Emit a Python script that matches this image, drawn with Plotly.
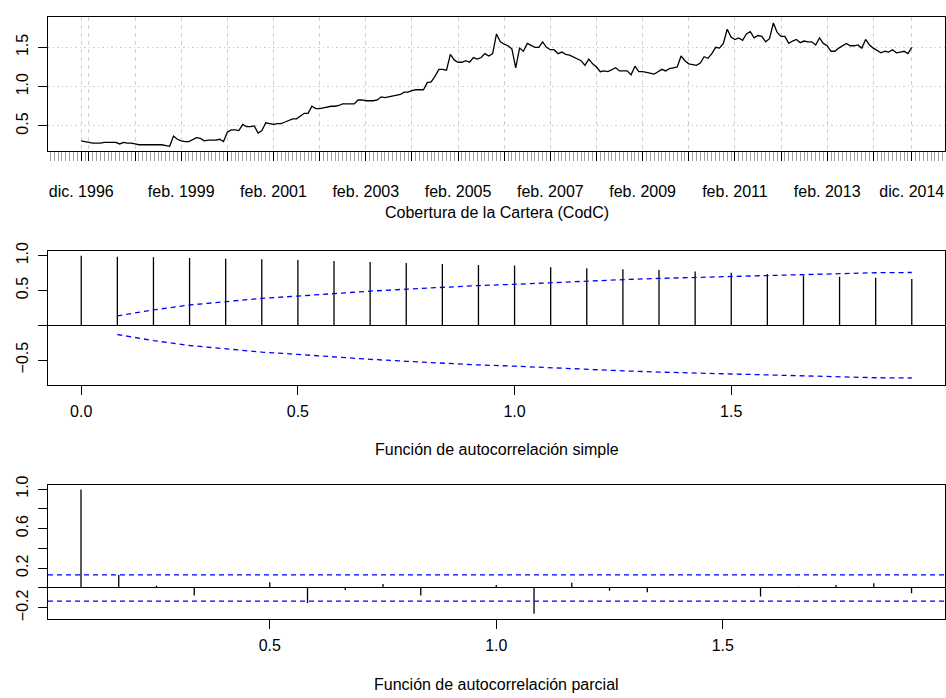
import plotly.graph_objects as go

# ---------------- data ----------------
START_YEAR = 1996
START_MONTH = 12  # dic. 1996

cobertura = [
    0.31,
    0.30, 0.29, 0.28, 0.28, 0.28, 0.29, 0.29, 0.29, 0.29, 0.27, 0.29, 0.28,
    0.28, 0.27, 0.26, 0.26, 0.26, 0.26, 0.26, 0.26, 0.26, 0.25, 0.24, 0.37,
    0.33, 0.31, 0.30, 0.30, 0.32, 0.35, 0.34, 0.31, 0.32, 0.32, 0.32, 0.33,
    0.30, 0.42, 0.45, 0.45, 0.44, 0.52, 0.49, 0.49, 0.50, 0.41, 0.44, 0.54,
    0.53, 0.52, 0.53, 0.53, 0.55, 0.57, 0.59, 0.59, 0.62, 0.66, 0.66, 0.75,
    0.72, 0.72, 0.73, 0.74, 0.75, 0.75, 0.76, 0.78, 0.78, 0.78, 0.78, 0.83,
    0.83, 0.82, 0.82, 0.82, 0.83, 0.87, 0.86, 0.87, 0.88, 0.89, 0.90, 0.93,
    0.93, 0.95, 0.96, 0.96, 0.96, 1.05, 1.06, 1.13, 1.22, 1.22, 1.21, 1.41,
    1.34, 1.31, 1.31, 1.33, 1.31, 1.37, 1.35, 1.37, 1.42, 1.39, 1.42, 1.67,
    1.57, 1.54, 1.52, 1.48, 1.24, 1.49, 1.45, 1.55, 1.52, 1.50, 1.50, 1.57,
    1.50, 1.47, 1.47, 1.42, 1.44, 1.41, 1.40, 1.38, 1.36, 1.33, 1.27, 1.35,
    1.29, 1.25, 1.19, 1.20, 1.19, 1.22, 1.24, 1.20, 1.20, 1.20, 1.15, 1.26,
    1.19, 1.19, 1.18, 1.17, 1.16, 1.19, 1.22, 1.20, 1.23, 1.24, 1.25, 1.39,
    1.33, 1.29, 1.28, 1.27, 1.30, 1.38, 1.36, 1.42, 1.50, 1.49, 1.55, 1.73,
    1.63, 1.60, 1.62, 1.59, 1.67, 1.70, 1.62, 1.65, 1.64, 1.57, 1.61, 1.81,
    1.69, 1.64, 1.64, 1.55, 1.58, 1.60, 1.56, 1.58, 1.57, 1.57, 1.53, 1.62,
    1.55, 1.52, 1.45, 1.45, 1.49, 1.52, 1.55, 1.52, 1.52, 1.53, 1.49, 1.60,
    1.53, 1.49, 1.46, 1.43, 1.45, 1.44, 1.47, 1.43, 1.44, 1.45, 1.42, 1.50,
]

# major ticks of the series axis: (year, month, label shown)
ts_ticks = [(1996, 12, "dic. 1996")] + [
    (y, 2, f"feb. {y}" if y in (1999, 2001, 2003, 2005, 2007, 2009, 2011, 2013) else "")
    for y in range(1997, 2015)
] + [(2014, 12, "dic. 2014")]
ts_yticks = [0.5, 1.0, 1.5]
ts_ytext = ["0.5", "1.0", "1.5"]

acf_lags = [k / 12 for k in range(24)]
acf_values = [1.0, 0.985, 0.976, 0.966, 0.956, 0.947, 0.938, 0.924, 0.910, 0.895,
              0.881, 0.867, 0.857, 0.834, 0.820, 0.806, 0.792, 0.773, 0.754, 0.735,
              0.716, 0.697, 0.683, 0.665]
acf_ci_lags = acf_lags[1:]
acf_ci = [0.133, 0.221, 0.291, 0.339, 0.386, 0.419, 0.457, 0.490, 0.518, 0.546,
          0.570, 0.588, 0.612, 0.636, 0.655, 0.673, 0.687, 0.702, 0.716, 0.730,
          0.740, 0.754, 0.758]

pacf_lags = [k / 12 for k in range(1, 24)]
pacf_values = [0.995, 0.130, 0.023, -0.077, 0.010, 0.057, -0.153, -0.020, 0.040,
               -0.077, 0.010, 0.030, -0.260, 0.053, -0.027, -0.043, 0.010, 0.007,
               -0.086, 0.013, 0.030, 0.047, -0.053]
pacf_ci = 0.133

titles = ["Cobertura de la Cartera (CodC)",
          "Función de autocorrelación simple",
          "Función de autocorrelación parcial"]

# ---------------- figure ----------------
W, H = 946, 698
FONT = "Liberation Sans, Arial, sans-serif"
FS = 16


def ydom(top, bottom):      # pixel rows -> paper domain
    return [1 - bottom / H, 1 - top / H]


xdom = [48 / W, 945 / W]

ts_x = [START_YEAR + (START_MONTH - 1) / 12 + i / 12 for i in range(len(cobertura))]


def stems(xs, ys):
    sx, sy = [], []
    for a, b in zip(xs, ys):
        sx += [a, a, None]
        sy += [0, b, None]
    return sx, sy


fig = go.Figure()
fig.add_trace(go.Scatter(x=ts_x, y=cobertura, mode="lines",
                         line=dict(color="black", width=1.3),
                         xaxis="x", yaxis="y", showlegend=False, hoverinfo="skip"))

ax, ay = stems(acf_lags, acf_values)
fig.add_trace(go.Scatter(x=ax, y=ay, mode="lines", line=dict(color="black", width=1.3),
                         xaxis="x2", yaxis="y2", showlegend=False, hoverinfo="skip"))
for sign in (1, -1):
    fig.add_trace(go.Scatter(x=acf_ci_lags, y=[sign * v for v in acf_ci], mode="lines",
                             line=dict(color="blue", width=1.3, dash="5px,4px"),
                             xaxis="x2", yaxis="y2", showlegend=False, hoverinfo="skip"))

px_, py_ = stems(pacf_lags, pacf_values)
fig.add_trace(go.Scatter(x=px_, y=py_, mode="lines", line=dict(color="black", width=1.3),
                         xaxis="x3", yaxis="y3", showlegend=False, hoverinfo="skip"))
for sign in (1, -1):
    fig.add_shape(type="line", xref="x3 domain", yref="y3", x0=0, x1=1,
                  y0=sign * pacf_ci, y1=sign * pacf_ci,
                  line=dict(color="blue", width=1.3, dash="5px,4px"))

axis_common = dict(showline=True, mirror=True, linecolor="black", linewidth=1,
                   ticks="outside", ticklen=9, tickcolor="black", tickwidth=1,
                   tickfont=dict(family=FONT, size=FS, color="black"),
                   zeroline=False, showgrid=False, fixedrange=True)

tvals = [y + (m - 1) / 12 for (y, m, _) in ts_ticks]
ttext = [t for (_, _, t) in ts_ticks]

fig.update_layout(
    width=W, height=H, margin=dict(l=0, r=0, t=0, b=0),
    paper_bgcolor="white", plot_bgcolor="white",
    font=dict(family=FONT, size=FS, color="black"),
    xaxis=dict(axis_common, domain=xdom, anchor="y", range=[1996.1967, 2015.6367],
               tickmode="array", tickvals=tvals, ticktext=ttext, tickangle=0,
               ticklabelstandoff=17,
               showgrid=True, gridcolor="#cfcfcf", gridwidth=1, griddash="4px,4px",
               minor=dict(tickmode="linear", tick0=START_YEAR + (START_MONTH - 1) / 12,
                          dtick=1 / 12, ticks="outside", ticklen=9,
                          tickcolor="#a0a0a0", showgrid=False)),
    yaxis=dict(axis_common, domain=ydom(8.3, 144), anchor="x", range=[0.184, 1.884],
               tickmode="array", tickvals=ts_yticks, ticktext=ts_ytext, tickangle=-90,
               ticklabelstandoff=4,
               showgrid=True, gridcolor="#cfcfcf", gridwidth=1, griddash="1.5px,3px"),
    xaxis2=dict(axis_common, domain=xdom, anchor="y2", range=[-0.0767, 1.9933],
                tickmode="array", tickvals=[0, 0.5, 1.0, 1.5],
                ticktext=["0.0", "0.5", "1.0", "1.5"], ticklabelstandoff=3),
    yaxis2=dict(axis_common, domain=ydom(245.7, 381.7), anchor="x2", range=[-0.854, 1.069],
                tickmode="array", tickvals=[-0.5, 0, 0.5, 1.0],
                ticktext=["\u22120.5", "", "0.5", "1.0"], tickangle=-90,
                ticklabelstandoff=4,
                zeroline=True, zerolinecolor="black", zerolinewidth=1),
    xaxis3=dict(axis_common, domain=xdom, anchor="y3", range=[0.0105, 1.9905],
                tickmode="array", tickvals=[0.5, 1.0, 1.5],
                ticktext=["0.5", "1.0", "1.5"], ticklabelstandoff=3),
    yaxis3=dict(axis_common, domain=ydom(483.3, 619.3), anchor="x3", range=[-0.309, 1.044],
                tickmode="array", tickvals=[-0.2, 0, 0.2, 0.4, 0.6, 0.8, 1.0],
                ticktext=["\u22120.2", "", "0.2", "", "0.6", "", "1.0"], tickangle=-90,
                ticklabelstandoff=4,
                zeroline=True, zerolinecolor="black", zerolinewidth=1),
)

xc = (xdom[0] + xdom[1]) / 2
for text, ypx in zip(titles, [207, 447.3, 686]):
    fig.add_annotation(text=text, xref="paper", yref="paper", x=xc, y=1 - ypx / H,
                       xanchor="center", yanchor="middle", showarrow=False,
                       font=dict(family=FONT, size=FS, color="black"))

fig.write_html("out.html", config={"displayModeBar": False},
               post_script="document.body.style.margin='0px';"
                           "document.body.style.overflow='hidden';")
